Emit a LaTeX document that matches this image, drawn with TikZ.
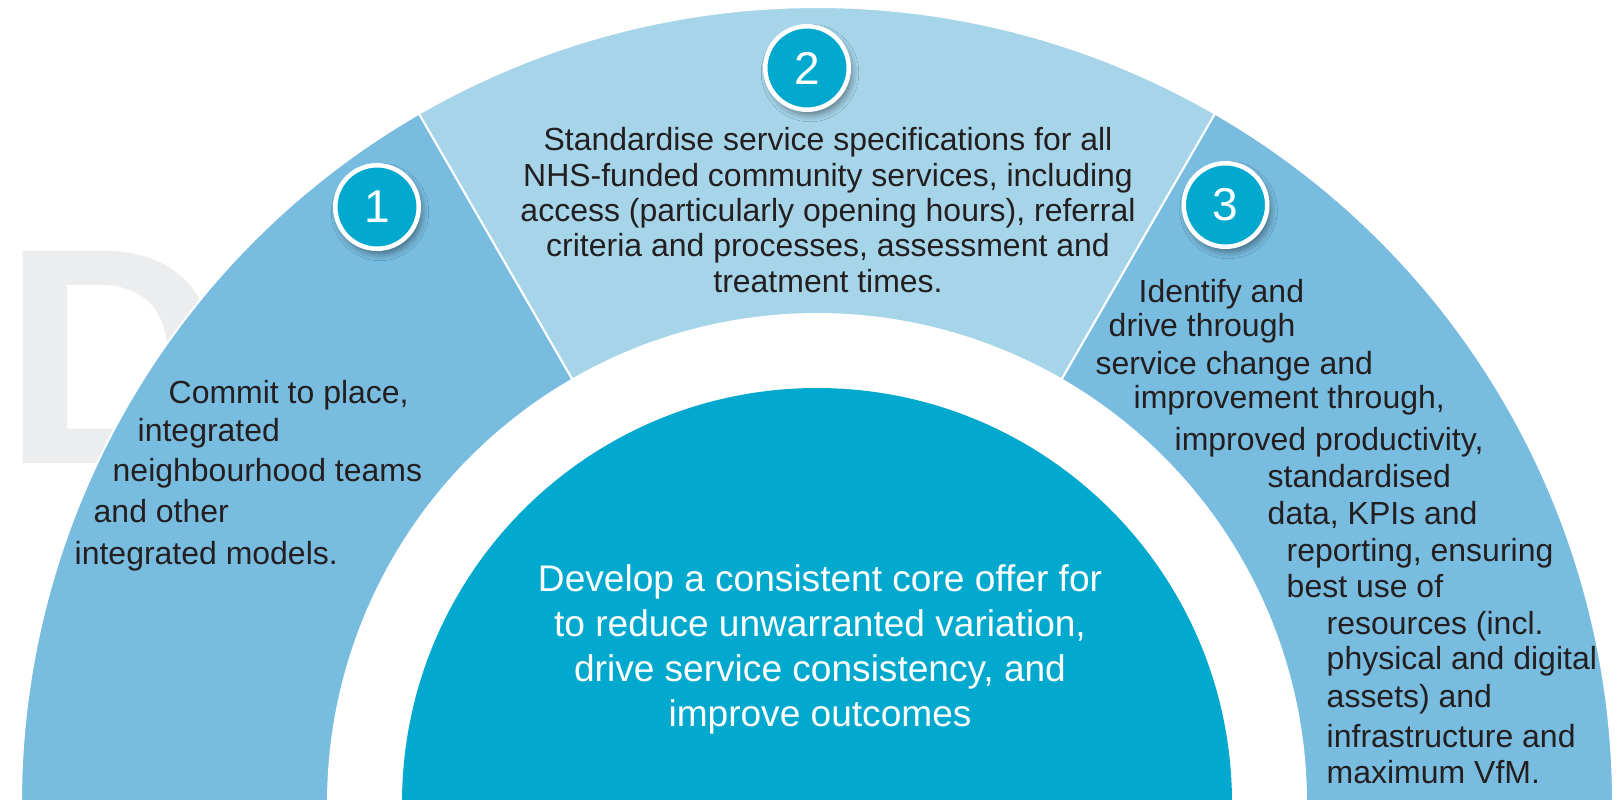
\documentclass[tikz,border=0pt]{standalone}
\usepackage{fontspec}
\setmainfont{Liberation Sans}
\usepackage{tikz}
\usetikzlibrary{shapes, shadows.blur}
\definecolor{ringBlue}{HTML}{78BCDF}
\definecolor{ringPale}{HTML}{A6D5EA}
\definecolor{coreTeal}{HTML}{02A9CE}
\definecolor{ghostGrey}{HTML}{ECEDEF}
\definecolor{inkDark}{HTML}{231F20}
\tikzstyle{segment} = [draw=white, line width=0.02cm, fill=ringBlue]
\tikzstyle{segmentPale} = [segment, fill=ringPale]
\tikzstyle{core} = [fill=coreTeal]
\tikzstyle{badge} = [circle, draw=white, line width=0.045cm, fill=coreTeal, minimum size=0.835cm, inner sep=0pt, text=white, font=\fontsize{13.1}{13.1}\selectfont, blur shadow={shadow xshift=0.03cm, shadow yshift=-0.05cm, shadow blur radius=0.07cm, shadow opacity=45}]
\tikzstyle{lineText} = [anchor=base west, inner sep=0pt, text=inkDark, font=\fontsize{9.1}{10.05}\selectfont]
\tikzstyle{blockText} = [align=center, inner sep=0pt, text=inkDark, font=\fontsize{9.1}{10.05}\selectfont]
\tikzstyle{coreText} = [align=center, inner sep=0pt, text=white, font=\fontsize{10.55}{12.8}\selectfont]
\tikzstyle{watermark} = [anchor=base west, inner sep=0pt, text=ghostGrey, font=\fontsize{87.9}{87.9}\selectfont\bfseries]

\begin{document}
\begin{tikzpicture}

\useasboundingbox (0,0) rectangle (16.2,-7.99);

\node[watermark] at (0.02,-4.63) (bigD) {D};

\coordinate (hub) at (8.17,-8.03);

\begin{scope}[shift={(hub)}]
\path[segment] (120:7.96) arc[start angle=120, end angle=180, radius=7.96] -- (180:4.89) arc[start angle=180, end angle=120, radius=4.89] -- cycle;
\path[segmentPale] (60:7.96) arc[start angle=60, end angle=120, radius=7.96] -- (120:4.89) arc[start angle=120, end angle=60, radius=4.89] -- cycle;
\path[segment] (0:7.96) arc[start angle=0, end angle=60, radius=7.96] -- (60:4.89) arc[start angle=60, end angle=0, radius=4.89] -- cycle;
\path[core] (0,0) circle (4.15);
\end{scope}

\node[badge] at (3.77,-2.07) (badgeOne) {1};
\node[badge] at (8.07,-0.68) (badgeTwo) {2};
\node[badge] at (12.255,-2.05) (badgeThree) {3};

\node[lineText] at (1.68,-4.03) (placeA) {Commit to place,};
\node[lineText] at (1.37,-4.41) (placeB) {integrated};
\node[lineText] at (1.12,-4.815) (placeC) {neighbourhood teams};
\node[lineText] at (0.93,-5.22) (placeD) {and other};
\node[lineText] at (0.74,-5.64) (placeE) {integrated models.};

\node[blockText] at (8.28,-2.10) (specs) {Standardise service specifications for all\\NHS-funded community services, including\\access (particularly opening hours), referral\\criteria and processes, assessment and\\treatment times.};

\node[lineText] at (11.38,-3.025) (changeA) {Identify and};
\node[lineText] at (11.08,-3.365) (changeB) {drive through};
\node[lineText] at (10.95,-3.745) (changeC) {service change and};
\node[lineText] at (11.33,-4.08) (changeD) {improvement through,};
\node[lineText] at (11.74,-4.50) (changeE) {improved productivity,};
\node[lineText] at (12.67,-4.875) (changeF) {standardised};
\node[lineText] at (12.67,-5.24) (changeG) {data, KPIs and};
\node[lineText] at (12.86,-5.61) (changeH) {reporting, ensuring};
\node[lineText] at (12.86,-5.975) (changeI) {best use of};
\node[lineText] at (13.26,-6.34) (changeJ) {resources (incl.};
\node[lineText] at (13.26,-6.69) (changeK) {physical and digital};
\node[lineText] at (13.26,-7.07) (changeL) {assets) and};
\node[lineText] at (13.26,-7.47) (changeM) {infrastructure and};
\node[lineText] at (13.26,-7.835) (changeN) {maximum VfM.};

\node[coreText] at (8.20,-6.495) (coreOffer) {Develop a consistent core offer for\\to reduce unwarranted variation,\\drive service consistency, and\\improve outcomes};

\end{tikzpicture}
\end{document}
